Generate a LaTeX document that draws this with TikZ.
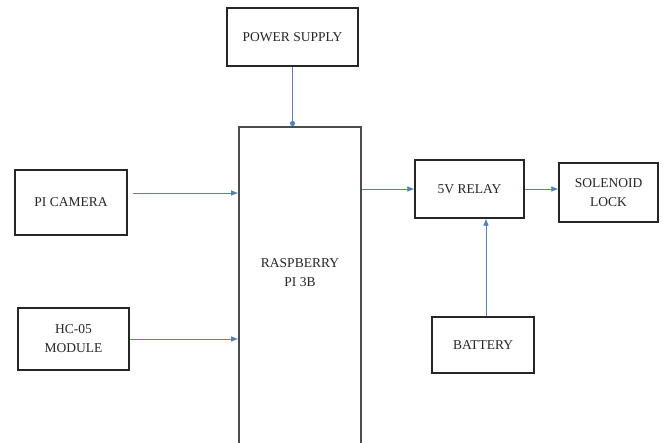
\documentclass[tikz,border=0pt]{standalone}
\usepackage{fontspec}
\setmainfont{Liberation Serif}
\usepackage{xcolor}
\usetikzlibrary{arrows.meta}
\definecolor{wireblue}{RGB}{79,129,189}
\tikzset{
  blk/.style={draw=black!85, line width=1.2pt, text=black!85, align=center,
    font=\fontsize{13.5}{19}\selectfont},
  wire/.style={draw=wireblue!70!gray, line width=0.6pt, -{Latex[length=7pt,width=5.5pt,color=wireblue]}}
}
\begin{document}
\begin{tikzpicture}[x=1pt,y=1pt]
  \clip (0,0) rectangle (663,443);
  \fill[white] (0,0) rectangle (663,443);
  \node (pwr)   [blk, minimum width=131, minimum height=58] at (292.5,406) {POWER SUPPLY}; %supply
  \node (rpi)   [blk, line width=1.6pt, draw=black!70, minimum width=122, minimum height=340, anchor=north] at (300,317) {}; %board
  \node (rpitxt) [blk, draw=none] at (300,170) {RASPBERRY\\PI 3B};
  \node (cam)   [blk, minimum width=112, minimum height=65] at (71,240.5) {PI CAMERA};
  \node (hc)    [blk, minimum width=111, minimum height=62] at (73.5,104) {HC-05\\MODULE};
  \node (relay) [blk, minimum width=109, minimum height=58] at (469.5,254) {5V RELAY};
  \node (lock)  [blk, minimum width=99, minimum height=59] at (608.5,250.5) {SOLENOID\\LOCK};
  \node (bat)   [blk, minimum width=102, minimum height=56] at (483,98) {BATTERY};
  \coordinate (camout) at ([yshift=9.5pt]cam.east);
  \coordinate (batout) at ([xshift=3pt]bat.north);
  \draw[wire, -{Circle[length=5pt,color=wireblue]}] (pwr.south) -- (pwr.south |- rpi.north); %supply to board
  \draw[wire, shorten <=5pt] (camout) -- (rpi.west |- camout); %camera
  \draw[wire] (hc.east) -- (rpi.west |- hc.east); %bluetooth
  \draw[wire] (rpi.east |- relay.west) -- (relay.west); %board to relay
  \draw[wire] (relay.east) -- (lock.west |- relay.east); %relay to lock
  \draw[wire] (batout) -- (batout |- relay.south); %battery
\end{tikzpicture}
\end{document}
